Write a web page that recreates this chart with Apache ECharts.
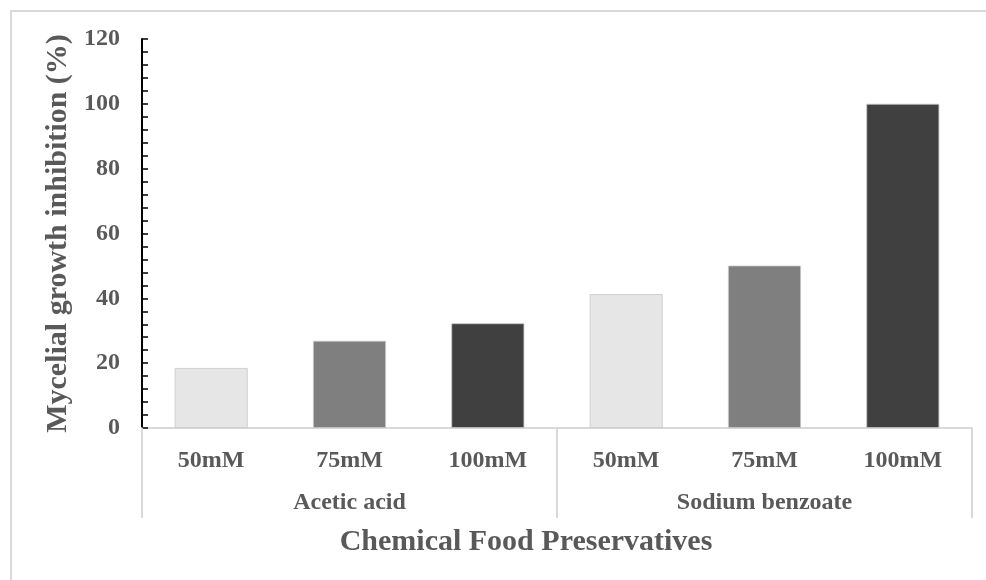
<!DOCTYPE html>
<html>
<head>
<meta charset="utf-8">
<script src="https://cdn.jsdelivr.net/npm/echarts@6/dist/echarts.min.js"></script>
<style>html,body{margin:0;padding:0;background:#fff;}#chart{width:986px;height:580px;}</style>
</head>
<body>
<div id="chart"></div>
<script>
var categories = ['50mM', '75mM', '100mM', '50mM', '75mM', '100mM'];
var groups = ['Acetic acid', 'Sodium benzoate'];
var values = [18.5, 26.9, 32.3, 41.3, 50.1, 100];
var barColors = ['#e6e6e6', '#7f7f7f', '#404040', '#e6e6e6', '#7f7f7f', '#404040'];
var yTicks = [0, 20, 40, 60, 80, 100, 120];
var yTitle = 'Mycelial growth inhibition (%)';
var xTitle = 'Chemical Food Preservatives';

var FONT = '"Liberation Serif", "Times New Roman", serif';
var TXT = '#595959';
var chart = echarts.init(document.getElementById('chart'));
chart.setOption({
  animation: false,
  backgroundColor: '#fff',
  grid: { left: 142, right: 14, top: 39, bottom: 152, containLabel: false },
  graphic: [
    { type: 'rect', shape: { x: 11, y: 11, width: 1100, height: 1100 }, style: { fill: 'none', stroke: '#d9d9d9', lineWidth: 2 }, silent: true },
    { type: 'text', x: 526, y: 542, style: { text: xTitle, font: 'bold 30px ' + FONT, fill: TXT, textAlign: 'center', textVerticalAlign: 'middle' } }
  ],
  xAxis: [
    {
      type: 'category', data: categories, position: 'bottom',
      axisLine: { show: true, lineStyle: { color: '#d9d9d9', width: 2 } },
      axisTick: { show: false },
      axisLabel: { margin: 21, fontFamily: FONT, fontWeight: 'bold', fontSize: 24, color: TXT }
    },
    {
      type: 'category', data: groups, position: 'bottom',
      axisLine: { show: false },
      axisTick: { show: true, length: 90, lineStyle: { color: '#d9d9d9', width: 2 } },
      axisLabel: { margin: 63, fontFamily: FONT, fontWeight: 'bold', fontSize: 24, color: TXT }
    }
  ],
  yAxis: {
    type: 'value', min: yTicks[0], max: yTicks[yTicks.length - 1], interval: 20,
    name: yTitle, nameLocation: 'middle', nameRotate: 90, nameGap: 60,
    nameTextStyle: { fontFamily: FONT, fontWeight: 'bold', fontSize: 30, color: TXT },
    axisLine: { show: true, lineStyle: { color: '#000', width: 2 } },
    axisTick: { show: true, inside: true, length: 6, lineStyle: { color: '#000', width: 1.5 } },
    minorTick: { show: true, splitNumber: 5, length: 6, lineStyle: { color: '#000', width: 1.5 } },
    splitLine: { show: false },
    axisLabel: { margin: 22, fontFamily: FONT, fontWeight: 'bold', fontSize: 24, color: TXT }
  },
  series: [{
    type: 'bar', xAxisIndex: 0, barWidth: 73,
    data: values.map(function (v, i) {
      return { value: v, itemStyle: { color: barColors[i], borderColor: '#c8c8c8', borderWidth: 0.8 } };
    })
  }]
});
</script>
</body>
</html>
